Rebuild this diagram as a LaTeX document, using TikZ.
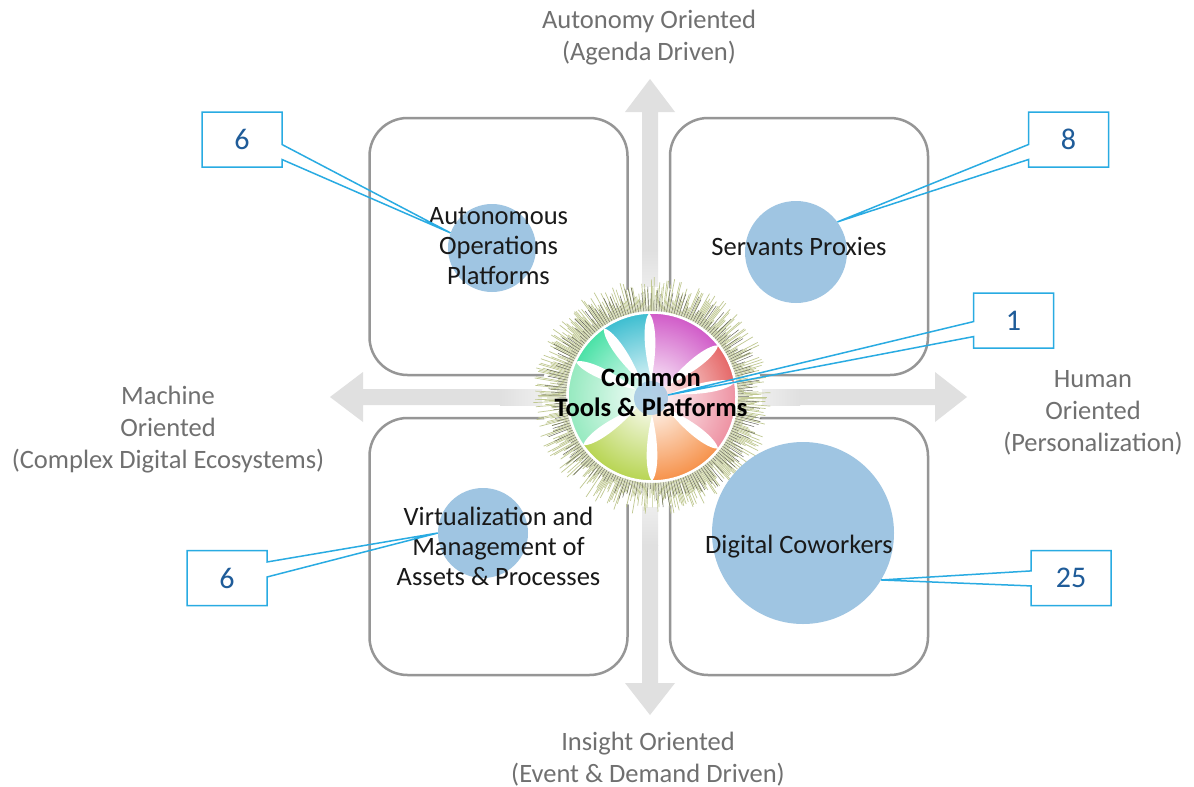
\documentclass[tikz,border=0pt]{standalone}
\usepackage{fontspec}
\setmainfont{Carlito}
\usetikzlibrary{shapes.callouts, fadings}
\definecolor{boxgray}{RGB}{150,150,150}
\definecolor{arrowgray}{RGB}{224,224,224}
\definecolor{bubbleblue}{RGB}{159,197,226}
\definecolor{calloutblue}{RGB}{41,171,226}
\definecolor{numblue}{RGB}{31,92,153}
\definecolor{axisgray}{RGB}{112,112,112}
\definecolor{spikeolive}{RGB}{192,200,145}
\definecolor{spikedark}{RGB}{95,95,85}
\definecolor{chMagenta}{RGB}{200,60,190}
\definecolor{chTeal}{RGB}{25,178,200}
\definecolor{chGreen}{RGB}{40,220,150}
\definecolor{chMint}{RGB}{130,230,180}
\definecolor{chLime}{RGB}{170,205,50}
\definecolor{chOrange}{RGB}{245,125,40}
\definecolor{chPink}{RGB}{235,125,145}
\definecolor{chRed}{RGB}{225,75,75}
\tikzfading[name=hubFade, inner color=transparent!0, outer color=transparent!100]
\begin{document}
\begin{tikzpicture}[x=1pt, y=-1pt,
			quad/.style={draw=boxgray, line width=2.5pt, rounded corners=38pt, minimum width=258pt, minimum height=257pt},
			bubble/.style={circle, fill=bubbleblue, inner sep=0pt},
			quadText/.style={text=black!90, align=center, font=\fontsize{26.5}{30}\selectfont},
			hubText/.style={text=black, align=center, font=\bfseries\fontsize{26.5}{30}\selectfont},
			axisText/.style={text=axisgray, align=center, font=\fontsize{26.5}{32}\selectfont},
			count/.style={rectangle callout, draw=calloutblue, line width=1.5pt, text=numblue, minimum width=80pt, minimum height=55pt, callout pointer width=15pt, font=\fontsize{30}{36}\selectfont},
			]
			\useasboundingbox (0,0) rectangle (1194,787);
			\fill[white] (0,0) rectangle (1194,787);
			
			% Quadrants
			\draw node[quad] (boxTL) at (498.5,246.5) {};
			\draw node[quad] (boxTR) at (799,246.5) {};
			\draw node[quad] (boxBL) at (498.5,546.5) {};
			\draw node[quad] (boxBR) at (799,546.5) {};
			
			% Arrow
			\fill[arrowgray] (650,79) -- (675,112) -- (658,112) -- (658,250) -- (642,250) -- (642,112) -- (625,112) -- cycle;
			\shade[top color=arrowgray, bottom color=white] (642,250) rectangle (658,340);
			\fill[arrowgray] (650,715) -- (675,683) -- (658,683) -- (658,545) -- (642,545) -- (642,683) -- (625,683) -- cycle;
			\shade[top color=white, bottom color=arrowgray] (642,455) rectangle (658,545);
			\fill[arrowgray] (330,397) -- (363,372) -- (363,389) -- (500,389) -- (500,405) -- (363,405) -- (363,422) -- cycle;
			\shade[left color=arrowgray, right color=white] (500,389) rectangle (590,405);
			\fill[arrowgray] (967,397) -- (935,372) -- (935,389) -- (800,389) -- (800,405) -- (935,405) -- (935,422) -- cycle;
			\shade[left color=white, right color=arrowgray] (710,389) rectangle (800,405);
			
			% Hub
			\begin{scope}[shift={(652,397)}, yscale=-1]
			\fill[white] (0,0) circle (110);
			\pgfmathsetseed{17}
			\foreach \a in {0,0.7,...,359.3}
			{\pgfmathsetmacro\len{90+30*rnd}
			\draw[spikeolive, line width=0.7pt] (\a:86) -- (\a:\len);}
			\foreach \a in {0.4,2.1,...,358.4}
			{\pgfmathsetmacro\len{90+22*rnd}
			\draw[spikedark, line width=0.45pt] (\a:86) -- (\a:\len);}
			\foreach \s/\e/\c in {38/92/chMagenta, 92/125/chTeal, 125/155/chGreen, 155/215/chMint, 215/270/chLime, 270/322/chOrange, 322/370/chPink, 10/38/chRed}
			{\fill[\c] (0,0) -- (\s:84) arc[start angle=\s, end angle=\e, radius=84] -- cycle;}
			\fill[white, path fading=hubFade] (0,0) circle (100);
			\foreach \p in {92,125,155,215,270,322,10,38}
			{\fill[white] (\p:18) .. controls ({\p-9}:55) and ({\p-4}:78) .. (\p:84) .. controls ({\p+4}:78) and ({\p+9}:55) .. (\p:18) -- cycle;}
			\draw[white, line width=1.5pt] (0,0) circle (84);
			\end{scope}
			
			% Bubbles
			\draw node[bubble, minimum size=88pt] (bubbleTL) at (492,248) {};
			\draw node[bubble, minimum size=102pt] (bubbleTR) at (796,252) {};
			\draw node[bubble, minimum size=90pt] (bubbleBL) at (483,533) {};
			\draw node[bubble, minimum size=182pt] (bubbleBR) at (803,533) {};
			\draw node[bubble, minimum size=34pt, opacity=0.8] (bubbleHub) at (651,398) {};
			
			% Texts
			\draw node[quadText] (textTL) at (boxTL.center) {Autonomous\\Operations\\Platforms};
			\draw node[quadText] (textTR) at (boxTR.center) {Servants Proxies};
			\draw node[quadText] (textBL) at (boxBL.center) {Virtualization and\\Management of\\Assets \& Processes};
			\draw node[quadText] (textBR) at (boxBR.center) {Digital Coworkers};
			\draw node[hubText] (textHub) at (651,393) {Common\\Tools \& Platforms};
			
			\draw node[axisText] (axisTop) at (649,38) {Autonomy Oriented\\(Agenda Driven)};
			\draw node[axisText] (axisLeft) at (168,430) {Machine\\Oriented\\(Complex Digital Ecosystems)};
			\draw node[axisText] (axisRight) at (1093,413) {Human\\Oriented\\(Personalization)};
			\draw node[axisText] (axisBottom) at (648,759) {Insight Oriented\\(Event \& Demand Driven)};
			
			% Counts
			\draw node[count, callout absolute pointer={(bubbleTL.160)}] (countTL) at (242,139.5) {6};
			\draw node[count, callout absolute pointer={(bubbleTR.36)}] (countTR) at (1068.5,139.5) {8};
			\draw node[count, callout absolute pointer={(bubbleHub.10)}] (countHub) at (1013.5,320.5) {1};
			\draw node[count, callout absolute pointer={(bubbleBL.180)}] (countBL) at (227,578) {6};
			\draw node[count, callout absolute pointer={(bubbleBR.-31)}] (countBR) at (1071,578) {25};
			
		\end{tikzpicture}
\end{document}
